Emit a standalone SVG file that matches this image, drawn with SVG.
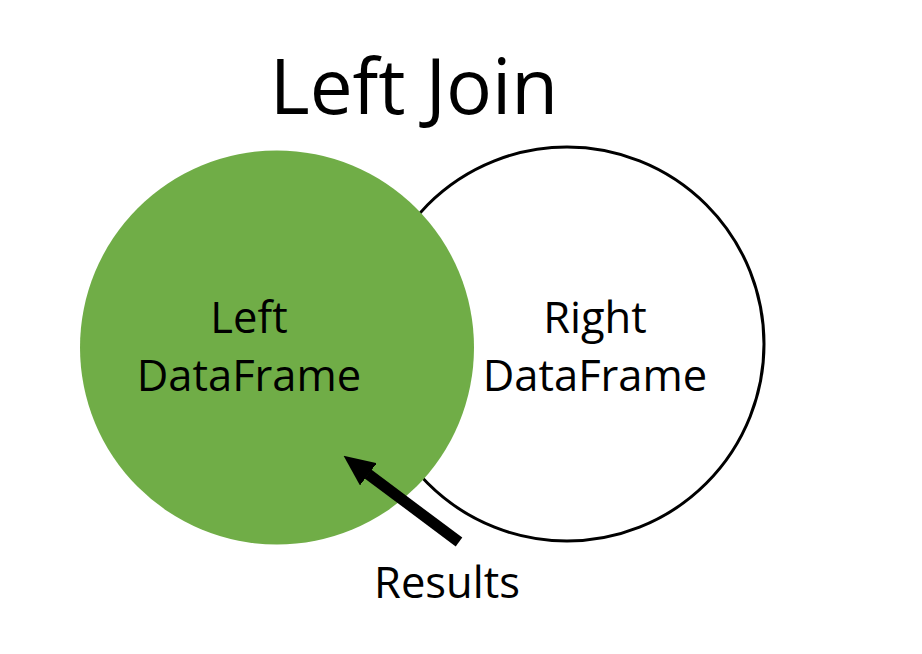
<svg xmlns="http://www.w3.org/2000/svg" width="922" height="654" viewBox="0 0 922 654">
  <style>
    text { font-family: "Open Sans", "Noto Sans", "Liberation Sans", sans-serif; fill: #000; text-anchor: middle; }
    .title { font-size: 76.5px; }
    .lbl { font-size: 43.5px; }
  </style>
  <defs>
    <marker id="head" markerUnits="userSpaceOnUse" markerWidth="31" markerHeight="28" viewBox="0 0 31 28" refX="0.5" refY="14" orient="auto">
      <path d="M0,0 L31,14 L0,28 z" fill="#000"/>
    </marker>
  </defs>
  <rect width="922" height="654" fill="#fff"/>
  <g id="title">
    <text class="title" x="414" y="114">Left Join</text>
  </g>
  <g id="right-dataframe">
    <circle cx="567" cy="344" r="197" fill="#fff" stroke="#000" stroke-width="3"/>
    <text class="lbl" x="595" y="333">Right</text>
    <text class="lbl" x="595" y="391">DataFrame</text>
  </g>
  <g id="left-dataframe">
    <circle cx="277" cy="347.5" r="197" fill="#70AD47"/>
    <text class="lbl" x="249" y="333">Left</text>
    <text class="lbl" x="249" y="391">DataFrame</text>
  </g>
  <g id="connectors">
    <line x1="459" y1="542" x2="368" y2="474" stroke="#000" stroke-width="11" marker-end="url(#head)"/>
  </g>
  <g id="results">
    <text class="lbl" x="447" y="598">Results</text>
  </g>
</svg>
